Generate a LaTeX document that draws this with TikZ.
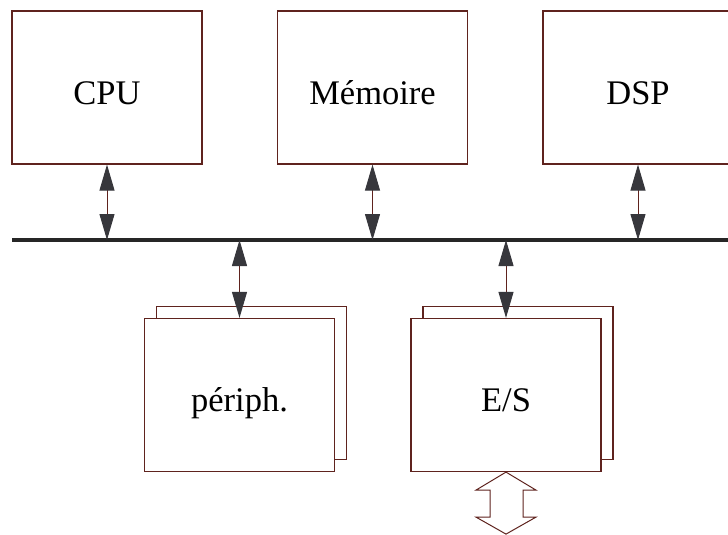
\documentclass[tikz,border=0pt]{standalone}
\usepackage{fontspec}
\setmainfont{Liberation Serif}
\usetikzlibrary{arrows.meta,shadows}

\definecolor{edge}{RGB}{95,35,30}
\definecolor{tipgray}{RGB}{55,55,60}

\tikzset{
  unit/.style={draw=edge, fill=white, line width=1.2pt, inner sep=0pt,
    minimum width=190pt, minimum height=153pt,
    font=\fontsize{34.5}{40}\selectfont, text height=33pt, text depth=0pt},
  stacked/.style={unit, copy shadow={shadow xshift=12pt, shadow yshift=12pt,
    draw=edge, fill=white, line width=1.2pt}},
  link/.style={draw=edge, line width=1pt,
    {Triangle[width=15pt,length=26pt,color=tipgray]}-{Triangle[width=15pt,length=26pt,color=tipgray]}}
}

\begin{document}
\begin{tikzpicture}[x=1pt,y=-1pt]

\useasboundingbox (0,0) rectangle (728,535);

% top row
\node[unit] (cpu) at (107,87.5) {CPU};
\node[unit] (mem) at (372.5,87.5) {Mémoire};
\node[unit] (dsp) at (638,87.5) {DSP};

% bus
\coordinate (busL) at (12,240);
\coordinate (busR) at (740,240);
\draw [line width=4pt,black!85] (busL) -- (busR);

% bottom row
\node[stacked] (periph) at (239.5,395) {périph.};
\node[stacked] (es) at (506,395) {E/S};

\draw [link] (cpu.south) -- (cpu.south |- busL);
\draw [link] (mem.south) -- (mem.south |- busL);
\draw [link] (dsp.south) -- (dsp.south |- busL);
\draw [link] (periph.north |- busL) -- (periph.north);
\draw [link] (es.north |- busL) -- (es.north);

% outside world
\draw [draw=edge, fill=white, line width=1pt, line join=miter]
  (es.south) -- ++(30,18) -- ++(-13,0) -- ++(0,27) -- ++(13,0)
  -- ++(-30,17) -- ++(-30,-17) -- ++(14,0) -- ++(0,-27) -- ++(-14,0) -- cycle;

\end{tikzpicture}
\end{document}
